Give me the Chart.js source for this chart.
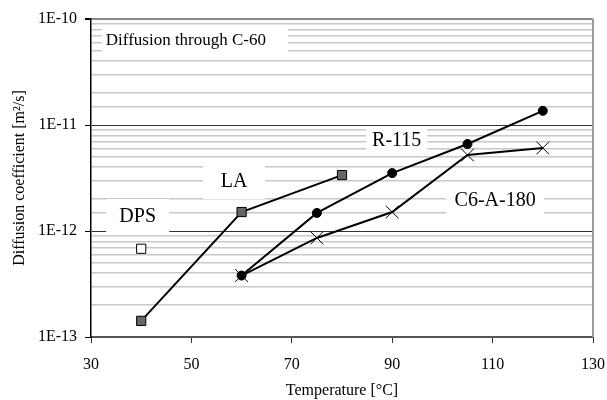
<!DOCTYPE html>
<html>
<head>
<meta charset="utf-8">
<script src="https://cdn.jsdelivr.net/npm/chart.js@4/dist/chart.umd.min.js"></script>
<style>
  body { margin: 0; background: #fff; }
</style>
</head>
<body>
<canvas id="grafico" width="607" height="400"></canvas>
<script>
// Dados (temperatura em °C, difusão em m²/s)
const tempLA = [40, 60, 80];
const difLA = [1.42e-13, 1.51e-12, 3.37e-12];

const tempDPS = [40];
const difDPS = [6.8e-13];

const tempR115 = [60, 75, 90, 105, 120];
const difR115 = [3.8e-13, 1.48e-12, 3.52e-12, 6.62e-12, 1.36e-11];

const tempC6 = [60, 75, 90, 105, 120];
const difC6 = [3.8e-13, 8.6e-13, 1.51e-12, 5.21e-12, 6.07e-12];

const ticksX = [30, 50, 70, 90, 110, 130];
const ticksY = [1e-13, 1e-12, 1e-11, 1e-10];
const rotulosY = ['1E-13', '1E-12', '1E-11', '1E-10'];

// Rótulos de texto sobre o gráfico (posição em coordenadas dos dados)
const notas = [
    { texto: 'Diffusion through C-60', x: 50.7, y: 6.4e-11, w: 186, h: 25, tam: 17, dx: -9 },
    { texto: 'LA', x: 58.5, y: 2.96e-12, w: 62, h: 36, tam: 20, dx: 0 },
    { texto: 'DPS', x: 39.3, y: 1.385e-12, w: 63, h: 34, tam: 20, dx: 0 },
    { texto: 'R-115', x: 90.9, y: 7.21e-12, w: 61, h: 25, tam: 20, dx: 0 },
    { texto: 'C6-A-180', x: 110.5, y: 1.96e-12, w: 98, h: 28, tam: 20, dx: 0 }
];

const fonte = '"Liberation Serif", "Times New Roman", serif';

function pontos(xs, ys) {
    return xs.map((x, i) => ({ x: x, y: ys[i] }));
}

function indiceDecada(v) {
    const l = Math.log10(v);
    if (Math.abs(l - Math.round(l)) < 1e-6) {
        return ticksY.findIndex(t => Math.abs(Math.log10(t) - l) < 1e-6);
    }
    return -1;
}

const pluginNotas = {
    id: 'notas',
    beforeDatasetsDraw(chart) {
        const ctx = chart.ctx;
        const sx = chart.scales.x, sy = chart.scales.y;
        ctx.save();
        notas.forEach(n => {
            const px = sx.getPixelForValue(n.x);
            const py = sy.getPixelForValue(n.y);
            ctx.fillStyle = '#fff';
            ctx.fillRect(px - n.w / 2, py - n.h / 2, n.w, n.h);
            ctx.fillStyle = '#000';
            ctx.font = n.tam + 'px ' + fonte;
            ctx.textAlign = 'center';
            ctx.textBaseline = 'middle';
            ctx.fillText(n.texto, px + n.dx, py + 1);
        });
        ctx.restore();
    },
    afterDraw(chart) {
        // borda direita cinza da área do gráfico
        const a = chart.chartArea;
        const ctx = chart.ctx;
        ctx.save();
        ctx.strokeStyle = '#999';
        ctx.lineWidth = 2;
        ctx.beginPath();
        ctx.moveTo(a.right, a.top);
        ctx.lineTo(a.right, a.bottom);
        ctx.stroke();
        ctx.restore();
    }
};

const ctx = document.getElementById('grafico').getContext('2d');
new Chart(ctx, {
    type: 'scatter',
    data: {
        datasets: [
            {
                label: 'LA',
                data: pontos(tempLA, difLA),
                showLine: true,
                borderColor: '#000',
                borderWidth: 2,
                pointStyle: 'rect',
                pointRadius: 6.5,
                pointBackgroundColor: '#666',
                pointBorderColor: '#000',
                pointBorderWidth: 1
            },
            {
                label: 'DPS',
                data: pontos(tempDPS, difDPS),
                showLine: false,
                pointStyle: 'rect',
                pointRadius: 6.5,
                pointBackgroundColor: '#fff',
                pointBorderColor: '#000',
                pointBorderWidth: 1
            },
            {
                label: 'C6-A-180',
                data: pontos(tempC6, difC6),
                showLine: true,
                borderColor: '#000',
                borderWidth: 2,
                pointStyle: 'crossRot',
                pointRadius: 9,
                pointBorderColor: '#000',
                pointBorderWidth: 1
            },
            {
                label: 'R-115',
                data: pontos(tempR115, difR115),
                showLine: true,
                borderColor: '#000',
                borderWidth: 2,
                pointStyle: 'circle',
                pointRadius: 4.5,
                pointBackgroundColor: '#000',
                pointBorderColor: '#000',
                pointBorderWidth: 1
            }
        ]
    },
    options: {
        responsive: false,
        animation: false,
        layout: { padding: { top: 19, right: 14, left: 0, bottom: 0 } },
        plugins: {
            legend: { display: false },
            tooltip: { enabled: false }
        },
        scales: {
            x: {
                type: 'linear',
                min: ticksX[0],
                max: ticksX[ticksX.length - 1],
                afterBuildTicks: scale => { scale.ticks = ticksX.map(v => ({ value: v })); },
                ticks: {
                    color: '#000',
                    font: { family: fonte, size: 16 },
                    padding: 12,
                    maxRotation: 0
                },
                grid: {
                    drawOnChartArea: false,
                    drawTicks: true,
                    tickLength: 6,
                    color: '#333'
                },
                border: { color: '#555', width: 2 },
                title: {
                    display: true,
                    text: 'Temperature [°C]',
                    color: '#000',
                    font: { family: fonte, size: 16 },
                    padding: { top: 2, bottom: 0 }
                },
                afterFit: scale => {
                    scale.height = 63;
                    scale.paddingLeft = 0;
                    scale.paddingRight = 0;
                }
            },
            y: {
                type: 'logarithmic',
                min: ticksY[0],
                max: ticksY[ticksY.length - 1],
                ticks: {
                    autoSkip: false,
                    color: '#000',
                    font: { family: fonte, size: 16 },
                    padding: 8,
                    callback: v => {
                        const i = indiceDecada(v);
                        return i >= 0 ? rotulosY[i] : '';
                    }
                },
                grid: {
                    color: c => {
                        const v = c.tick ? c.tick.value : 0;
                        const i = indiceDecada(v);
                        if (i === ticksY.length - 1) return '#888';
                        if (i >= 0) return '#333';
                        return '#c8c8c8';
                    },
                    lineWidth: c => {
                        const v = c.tick ? c.tick.value : 0;
                        const i = indiceDecada(v);
                        if (i === ticksY.length - 1) return 2;
                        return i >= 0 ? 1 : 1.5;
                    },
                    tickColor: c => {
                        const v = c.tick ? c.tick.value : 0;
                        return indiceDecada(v) >= 0 ? '#000' : 'rgba(0,0,0,0)';
                    },
                    tickLength: 6
                },
                border: { color: '#000', width: 1.5 },
                title: {
                    display: true,
                    text: 'Diffusion coefficient [m²/s]',
                    color: '#000',
                    font: { family: fonte, size: 16 },
                    padding: { top: 10, bottom: 0 }
                },
                afterFit: scale => {
                    scale.width = 91;
                    scale.paddingTop = 0;
                    scale.paddingBottom = 0;
                }
            }
        }
    },
    plugins: [pluginNotas]
});
</script>
</body>
</html>
